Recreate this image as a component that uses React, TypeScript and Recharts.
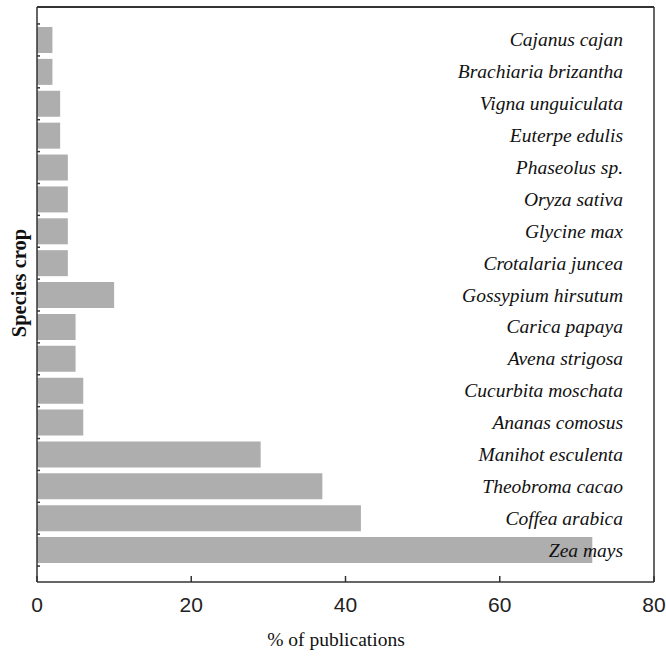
import { BarChart, Bar, XAxis, YAxis } from 'recharts';

const species = [
  'Cajanus cajan',
  'Brachiaria brizantha',
  'Vigna unguiculata',
  'Euterpe edulis',
  'Phaseolus sp.',
  'Oryza sativa',
  'Glycine max',
  'Crotalaria juncea',
  'Gossypium hirsutum',
  'Carica papaya',
  'Avena strigosa',
  'Cucurbita moschata',
  'Ananas comosus',
  'Manihot esculenta',
  'Theobroma cacao',
  'Coffea arabica',
  'Zea mays',
];
const publications = [2, 2, 3, 3, 4, 4, 4, 4, 10, 5, 5, 6, 6, 29, 37, 42, 72];
const xTicks = [0, 20, 40, 60, 80];

const data = species.map((name, i) => ({ name, value: publications[i] }));

const AXIS = '#333';
const HALF_BAND = 16;

function BottomTick({ x, y, payload }: any) {
  return (
    <g>
      <line x1={x} x2={x} y1={y} y2={y - 6} stroke={AXIS} strokeWidth={1.5} />
      <text x={x} y={y + 22} textAnchor="middle" dominantBaseline="central"
        fontFamily="Liberation Sans, Arial, sans-serif" fontSize={21} fill="#222">
        {payload.value}
      </text>
    </g>
  );
}

function TopTick({ x, y }: any) {
  return <line x1={x} x2={x} y1={y} y2={y + 6} stroke={AXIS} strokeWidth={1.5} />;
}

function LeftTick({ x, y, index }: any) {
  return (
    <g>
      {index === 0 && (
        <line x1={x} x2={x + 3} y1={y - HALF_BAND} y2={y - HALF_BAND} stroke={AXIS} strokeWidth={1.5} />
      )}
      <line x1={x} x2={x + 3} y1={y + HALF_BAND} y2={y + HALF_BAND} stroke={AXIS} strokeWidth={1.5} />
    </g>
  );
}

function RightLabel({ x, y, payload }: any) {
  return (
    <text x={x - 31} y={y} textAnchor="end" dominantBaseline="central"
      fontFamily="Liberation Serif, Times New Roman, serif" fontStyle="italic" fontSize={19.5} fill="#111">
      {payload.value}
    </text>
  );
}

export default function App() {
  return (
    <div style={{ position: 'absolute', left: 0, top: 0, width: 666, height: 660, background: '#fff' }}>
      <BarChart
        width={666}
        height={660}
        data={data}
        layout="vertical"
        margin={{ top: 5, right: 10, left: 35, bottom: 48 }}
        barSize={26}
      >
        <XAxis
          xAxisId="bottom"
          type="number"
          domain={[0, 80]}
          ticks={xTicks}
          orientation="bottom"
          height={30}
          tickSize={0}
          tickMargin={0}
          tickLine={false}
          axisLine={{ stroke: AXIS, strokeWidth: 1.5 }}
          tick={<BottomTick />}
          interval={0}
        />
        <XAxis
          xAxisId="top"
          type="number"
          domain={[0, 80]}
          ticks={xTicks}
          orientation="top"
          height={2}
          tickSize={0}
          tickMargin={0}
          tickLine={false}
          axisLine={{ stroke: AXIS, strokeWidth: 2 }}
          tick={<TopTick />}
          interval={0}
        />
        <YAxis
          yAxisId="left"
          type="category"
          dataKey="name"
          orientation="left"
          width={2}
          tickSize={0}
          tickMargin={0}
          tickLine={false}
          padding={{ top: 17, bottom: 16 }}
          axisLine={{ stroke: AXIS, strokeWidth: 1.5 }}
          tick={<LeftTick />}
          interval={0}
        />
        <YAxis
          yAxisId="right"
          type="category"
          dataKey="name"
          orientation="right"
          width={2}
          tickSize={0}
          tickMargin={0}
          tickLine={false}
          padding={{ top: 17, bottom: 16 }}
          axisLine={{ stroke: AXIS, strokeWidth: 1.5 }}
          tick={<RightLabel />}
          interval={0}
        />
        <Bar dataKey="value" xAxisId="bottom" yAxisId="left" fill="#aeaeae" isAnimationActive={false} />
      </BarChart>
      <div
        style={{
          position: 'absolute', left: 0, top: 640, width: 672, textAlign: 'center',
          fontFamily: 'Liberation Serif, Times New Roman, serif', fontSize: 19.5, color: '#111',
          lineHeight: '1', transform: 'translateY(-50%)',
        }}
      >
        % of publications
      </div>
      <div
        style={{
          position: 'absolute', left: 19, top: 283, transform: 'translate(-50%, -50%) rotate(-90deg)',
          fontFamily: 'Liberation Serif, Times New Roman, serif', fontWeight: 'bold', fontSize: 20.5,
          color: '#111', whiteSpace: 'nowrap', lineHeight: '1',
        }}
      >
        Species crop
      </div>
    </div>
  );
}
